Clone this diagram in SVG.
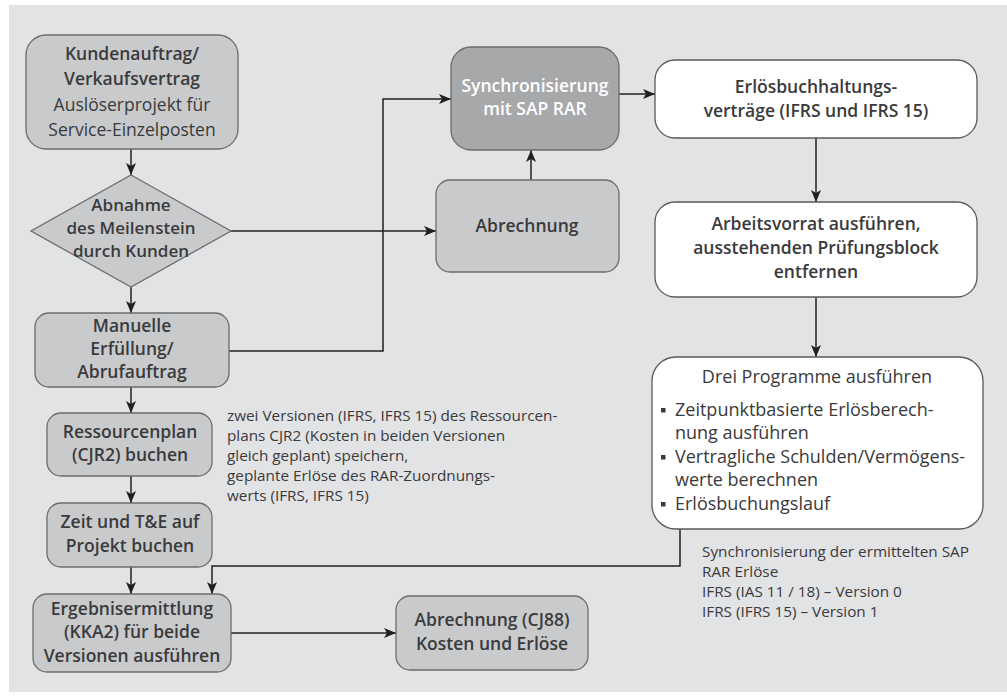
<svg xmlns="http://www.w3.org/2000/svg" width="1007" height="698" viewBox="0 0 1007 698">
<style>
.box{fill:#c9cacc;stroke:#6b6c6e;stroke-width:1.3}
.wbox{fill:#ffffff;stroke:#58595b;stroke-width:1.3}
.dbox{fill:#a7a8aa;stroke:#6b6c6e;stroke-width:1.3}
.t{font-family:"Open Sans","Liberation Sans",sans-serif;font-size:17.5px;fill:#3a3a3c;text-anchor:middle}
.b{font-weight:600}
.w{fill:#ffffff}
.l{text-anchor:start}
.dt{font-size:17px}
.a{font-family:"Open Sans","Liberation Sans",sans-serif;font-size:15.3px;fill:#3a3a3c}
.c{fill:none;stroke:#231f20;stroke-width:1.5}
.bul{fill:#3a3a3c}
</style>
<defs>
<marker id="ah" viewBox="0 0 12 10" refX="12" refY="5" markerWidth="12" markerHeight="10" markerUnits="userSpaceOnUse" orient="auto">
<path d="M0,0 L12,5 L0,10 L3,5 z" fill="#231f20"/>
</marker>
</defs>
<rect x="9" y="5" width="998" height="687" fill="#e2e3e5"/>

<g id="connectors">
<path class="c" marker-end="url(#ah)" d="M131,149 V175"/>
<path class="c" marker-end="url(#ah)" d="M131,287 V313"/>
<path class="c" marker-end="url(#ah)" d="M131,387 V413"/>
<path class="c" marker-end="url(#ah)" d="M131,476 V503"/>
<path class="c" marker-end="url(#ah)" d="M131,567 V594"/>
<path class="c" marker-end="url(#ah)" d="M231,231 H436"/>
<path class="c" marker-end="url(#ah)" d="M229,351 H383 V99 H451"/>
<path class="c" marker-end="url(#ah)" d="M531,180 V150"/>
<path class="c" marker-end="url(#ah)" d="M619,94 H655"/>
<path class="c" marker-end="url(#ah)" d="M816,138 V202"/>
<path class="c" marker-end="url(#ah)" d="M816,297 V357"/>
<path class="c" marker-end="url(#ah)" d="M680,529 V566 H212 V594"/>
<path class="c" marker-end="url(#ah)" d="M231,633 H396"/>
</g>

<g id="kundenauftrag">
<rect class="box" x="26" y="35" width="212" height="114" rx="20"/>
<text class="t b" x="132" y="60">Kundenauftrag/</text>
<text class="t b" x="132" y="85">Verkaufsvertrag</text>
<text class="t" x="132" y="111">Auslöserprojekt für</text>
<text class="t" x="132" y="136">Service-Einzelposten</text>
</g>

<g id="abnahme">
<polygon class="box" points="131,175 231,231 131,287 31,231"/>
<text class="t b dt" x="131" y="211">Abnahme</text>
<text class="t b dt" x="131" y="234">des Meilenstein</text>
<text class="t b dt" x="131" y="257">durch Kunden</text>
</g>

<g id="manuelle">
<rect class="box" x="35" y="313" width="194" height="74" rx="14"/>
<text class="t b" x="132" y="332">Manuelle</text>
<text class="t b" x="132" y="355">Erfüllung/</text>
<text class="t b" x="132" y="378">Abrufauftrag</text>
</g>

<g id="ressourcenplan">
<rect class="box" x="47" y="413" width="165" height="63" rx="14"/>
<text class="t b" x="130" y="438">Ressourcenplan</text>
<text class="t b" x="130" y="461">(CJR2) buchen</text>
</g>

<g id="zeit">
<rect class="box" x="47" y="503" width="165" height="64" rx="14"/>
<text class="t b" x="130" y="528">Zeit und T&amp;E auf</text>
<text class="t b" x="130" y="552">Projekt buchen</text>
</g>

<g id="ergebnis">
<rect class="box" x="33" y="594" width="198" height="78" rx="14"/>
<text class="t b" x="132" y="615">Ergebnisermittlung</text>
<text class="t b" x="132" y="638">(KKA2) für beide</text>
<text class="t b" x="132" y="662">Versionen ausführen</text>
</g>

<g id="abrechnung-cj88">
<rect class="box" x="396" y="596" width="192" height="74" rx="14"/>
<text class="t b" x="492" y="626">Abrechnung (CJ88)</text>
<text class="t b" x="492" y="650">Kosten und Erlöse</text>
</g>

<g id="synchronisierung">
<rect class="dbox" x="451" y="47" width="168" height="103" rx="20"/>
<text class="t b w" x="535" y="92">Synchronisierung</text>
<text class="t b w" x="535" y="115">mit SAP RAR</text>
</g>

<g id="abrechnung">
<rect class="box" x="436" y="180" width="183" height="92" rx="14"/>
<text class="t b" x="527" y="232">Abrechnung</text>
</g>

<g id="erloesbuchhaltung">
<rect class="wbox" x="655" y="60" width="322" height="78" rx="20"/>
<text class="t b" x="816" y="93">Erlösbuchhaltungs-</text>
<text class="t b" x="816" y="117">verträge (IFRS und IFRS 15)</text>
</g>

<g id="arbeitsvorrat">
<rect class="wbox" x="655" y="202" width="322" height="95" rx="20"/>
<text class="t b" x="816" y="230">Arbeitsvorrat ausführen,</text>
<text class="t b" x="816" y="254">ausstehenden Prüfungsblock</text>
<text class="t b" x="816" y="278">entfernen</text>
</g>

<g id="drei-programme">
<rect class="wbox" x="652" y="357" width="331" height="172" rx="24"/>
<text class="t" x="817" y="383" style="font-size:18px">Drei Programme ausführen</text>
<rect class="bul" x="661" y="408" width="4.5" height="4.5"/>
<text class="t l" x="675" y="416" style="font-size:18px">Zeitpunktbasierte Erlösberech-</text>
<text class="t l" x="675" y="439" style="font-size:18px">nung ausführen</text>
<rect class="bul" x="661" y="455" width="4.5" height="4.5"/>
<text class="t l" x="675" y="463" style="font-size:18px">Vertragliche Schulden/Vermögens-</text>
<text class="t l" x="675" y="486" style="font-size:18px">werte berechnen</text>
<rect class="bul" x="661" y="502" width="4.5" height="4.5"/>
<text class="t l" x="675" y="510" style="font-size:18px">Erlösbuchungslauf</text>
</g>

<g id="note-ressourcenplan">
<text class="a" x="227" y="421">zwei Versionen (IFRS, IFRS 15) des Ressourcen-</text>
<text class="a" x="227" y="441">plans CJR2 (Kosten in beiden Versionen</text>
<text class="a" x="227" y="461">gleich geplant) speichern,</text>
<text class="a" x="227" y="481">geplante Erlöse des RAR-Zuordnungs-</text>
<text class="a" x="227" y="501">werts (IFRS, IFRS 15)</text>
</g>

<g id="note-sync">
<text class="a" x="702" y="557">Synchronisierung der ermittelten SAP</text>
<text class="a" x="702" y="577">RAR Erlöse</text>
<text class="a" x="702" y="597">IFRS (IAS 11 / 18) – Version 0</text>
<text class="a" x="702" y="617">IFRS (IFRS 15) – Version 1</text>
</g>
</svg>
